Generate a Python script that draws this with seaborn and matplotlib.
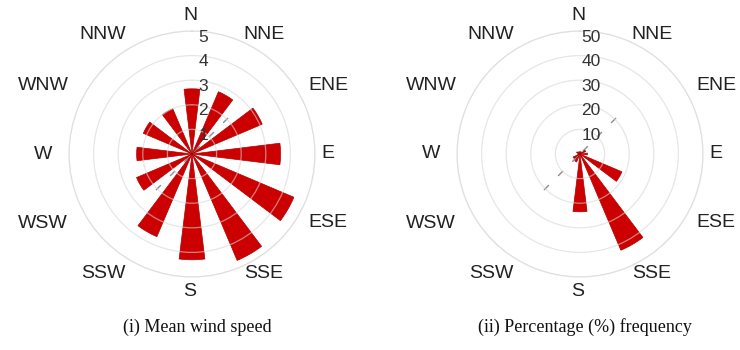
import numpy as np
import matplotlib
matplotlib.use("Agg")
import matplotlib.pyplot as plt
import matplotlib.transforms as mtransforms
import seaborn as sns

# Wind rose data: 12 sectors, 30 degrees apart
directions = ["N", "NNE", "ENE", "E", "ESE", "SSE", "S", "SSW", "WSW", "W", "WNW", "NNW"]
angles_deg = [0, 30, 60, 90, 120, 150, 180, 210, 240, 270, 300, 330]
mean_speed = [2.65, 2.75, 3.1, 3.6, 4.5, 4.7, 4.3, 3.65, 2.45, 2.25, 2.15, 2.0]
freq_pct = [1.0, 1.0, 2.5, 3.0, 18.5, 42.5, 23.5, 3.5, 3.0, 1.0, 1.5, 1.0]
speed_rings = [1, 2, 3, 4, 5]
freq_rings = [10, 20, 30, 40, 50]
captions = ["(i) Mean wind speed", "(ii) Percentage (%) frequency"]

sns.set_theme(style="white")
plt.rcParams["font.family"] = ["Liberation Sans", "DejaVu Sans"]

W, H, DPI = 740, 350, 100
fig = plt.figure(figsize=(W / DPI, H / DPI), dpi=DPI)

RADIUS_PX = 123
CY = 154
centers_x = [192, 580]
BAR_RED = "#cc0000"


def px_offset(dx, dy):
    """Screen offset in pixels (dy positive = downwards)."""
    return mtransforms.ScaledTranslation(dx / DPI, -dy / DPI, fig.dpi_scale_trans)


def rose(cx, values, rings, caption):
    ax = fig.add_axes([(cx - RADIUS_PX) / W, (H - CY - RADIUS_PX) / H,
                       2 * RADIUS_PX / W, 2 * RADIUS_PX / H], projection="polar")
    ax.set_theta_zero_location("N")
    ax.set_theta_direction(-1)
    rmax = rings[-1]
    ax.set_ylim(0, rmax)

    theta = np.deg2rad(angles_deg)
    ax.bar(theta, values, width=np.deg2rad(14), color=BAR_RED,
           edgecolor="#b00000", linewidth=0.5, zorder=2)

    # sparse dashed diagonal guide through the centre
    diag_r = [0, 2.12 * rmax / 5]
    for a in (45, 225):
        ax.plot(np.deg2rad([a, a]), diag_r, color="#8c8c8c", lw=1.0,
                linestyle=(11.5, (5, 9.4)), zorder=1)

    # range rings drawn over the bars
    ax.set_axisbelow(False)
    ax.set_yticks(rings)
    ax.set_yticklabels([])
    ax.set_xticks([])
    ax.xaxis.grid(False)
    ax.yaxis.grid(True, color="#d6d6d6", linewidth=0.9, alpha=0.6)
    ax.spines["polar"].set_color("#e4e4e4")
    ax.spines["polar"].set_linewidth(0.9)
    ax.set_facecolor("white")

    # ring values stacked just right of north
    for r in rings:
        ax.text(0, r, str(r), transform=ax.transData + px_offset(11, 6),
                ha="center", va="center", fontsize=12.5, color="#333333", zorder=5)

    # compass labels around the rim
    for name, a in zip(directions, angles_deg):
        t = np.deg2rad(a)
        s, c = np.sin(t), np.cos(t)
        if abs(s) < 0.1:
            dx = -2
        elif s > 0:
            dx = 72 if abs(s) < 0.7 else 136
        else:
            dx = -89 if abs(s) < 0.7 else -149
        dy = -138 * c
        ax.text(0.5, 0.5, name, transform=ax.transAxes + px_offset(dx, dy),
                ha="center", va="center", fontsize=14, color="#222222")

    fig.text((cx + 5) / W, 1 - 327 / H, caption, ha="center", va="center",
             fontsize=13, family=["Liberation Serif", "DejaVu Serif"], color="#111111")
    return ax


rose(centers_x[0], mean_speed, speed_rings, captions[0])
rose(centers_x[1], freq_pct, freq_rings, captions[1])

fig.savefig("out.png", dpi=DPI, facecolor="white")
